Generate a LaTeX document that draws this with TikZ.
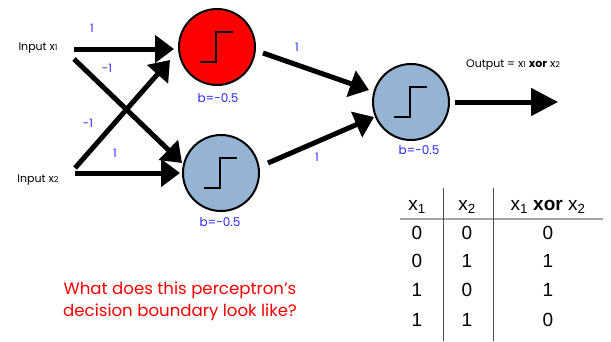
\documentclass[tikz,border=0pt]{standalone}
\usepackage{fontspec}
\setmainfont{Poppins}
\newfontfamily\tablefont{Liberation Sans}
\usetikzlibrary{arrows.meta, positioning}
\definecolor{neuronblue}{RGB}{149,179,210}
\definecolor{weightblue}{RGB}{40,40,255}

\begin{document}
\begin{tikzpicture}[x=1pt, y=-1pt, font=\fontsize{11}{13}\selectfont,
  neuron/.style={circle, draw, line width=2pt, minimum size=76pt, inner sep=0pt,
    path picture={\draw[line width=2.2pt] ([shift={(-17pt,-15pt)}]path picture bounding box.center)
      -- ++(16pt,0pt) -- ++(0pt,30pt) -- ++(17pt,0pt);}},
  wire/.style={line width=5pt, -{Triangle[length=19pt,width=27pt]}},
  weight/.style={text=weightblue, font=\fontsize{11.5}{13}\selectfont},
  bias/.style={text=weightblue, font=\fontsize{12}{14}\selectfont},
  cell/.style={font=\tablefont\fontsize{19}{21}\selectfont, anchor=center}]
  \useasboundingbox (0,0) rectangle (611,341);

  % network
  \node (in1) at (38,48) {Input x{\fontsize{8}{8}\selectfont 1}};
  \node (in2) at (38,180) {Input x{\fontsize{8}{8}\selectfont 2}};
  \node[neuron, fill=red] (h1) at (217,47) {};
  \node[neuron, fill=neuronblue] (h2) at (221,173) {};
  \node[neuron, fill=neuronblue] (out) at (411,102) {};
  \node[bias] (b1) at (218,98) {b=-0.5};
  \node[bias] (b2) at (220,222) {b=-0.5};
  \node[bias] (b3) at (419,150) {b=-0.5};
  \coordinate (outend) at (558,102);

  \draw[wire] ([shift={(13pt,-1pt)}]in1.east) -- ([shift={(-4pt,-2pt)}]h1.west);
  \draw[wire] ([shift={(13pt,-11pt)}]in1.east) -- ([yshift=10pt]h2.west);
  \draw[wire] ([shift={(13pt,12pt)}]in2.east) -- ([shift={(-8pt,-13pt)}]h1.west);
  \draw[wire] ([shift={(13pt,7pt)}]in2.east) -- ([xshift=-2pt]h2.west);
  \draw[wire] ([shift={(7pt,-6pt)}]h1.east) -- ([shift={(-3pt,12pt)}]out.west);
  \draw[wire] ([shift={(8pt,10pt)}]h2.east) -- ([shift={(2pt,-15pt)}]out.west);
  \draw[line width=5pt, -{Triangle[length=27pt,width=27pt]}] ([xshift=5pt]out.east) -- (outend);

  \node[weight] (w11) at (92,28) {1};
  \node[weight] (w12) at (107,68) {-1};
  \node[weight] (w21) at (88,123) {-1};
  \node[weight] (w22) at (115,153) {1};
  \node[weight] (v1) at (297,47) {1};
  \node[weight] (v2) at (317,157) {1};
  \node (outlbl) at (513,65) {Output = x{\fontsize{8}{8}\selectfont 1} \textbf{xor} x{\fontsize{8}{8}\selectfont 2}};

  % truth table
  \draw[gray!70, line width=1.2pt] (400,219) -- (603,219);
  \draw[black!70, line width=0.8pt] (443,188) -- (443,341);
  \draw[black!70, line width=0.8pt] (493,188) -- (493,341);
  \node[cell] (hx1) at (417,207) {x\textsubscript{1}};
  \node[cell] (hx2) at (467,207) {x\textsubscript{2}};
  \node[cell] (hxor) at (548,207) {x\textsubscript{1} \textbf{xor} x\textsubscript{2}};
  \node[cell] at (417,233) {0}; \node[cell] at (467,233) {0}; \node[cell] at (548,233) {0};
  \node[cell] at (417,261) {0}; \node[cell] at (467,261) {1}; \node[cell] at (548,261) {1};
  \node[cell] at (417,290) {1}; \node[cell] at (467,290) {0}; \node[cell] at (548,290) {1};
  \node[cell] at (417,320) {1}; \node[cell] at (467,320) {1}; \node[cell] at (548,320) {0};

  \node[text=red, align=center, font=\fontsize{16.6}{22}\selectfont] (question) at (180,301)
    {What does this perceptron’s\\decision boundary look like?};
\end{tikzpicture}
\end{document}
